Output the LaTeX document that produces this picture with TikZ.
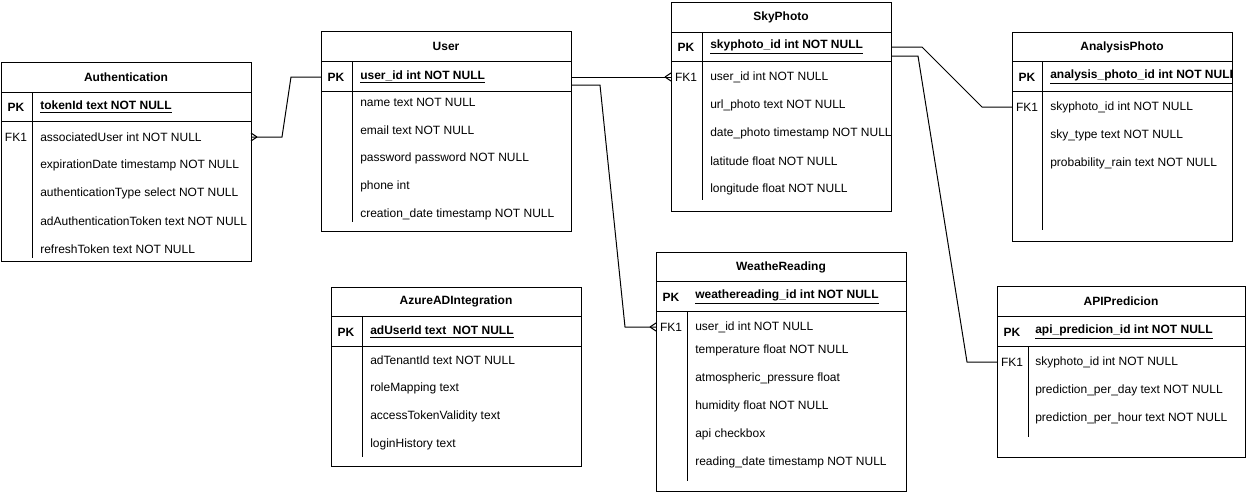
\documentclass[tikz,border=0pt]{standalone}
\usepackage{fontspec}
\setmainfont{Liberation Sans}
\usetikzlibrary{calc}

\tikzset{
  tablebox/.style={draw, line width=0.75pt},
  tableline/.style={line width=0.75pt},
  relline/.style={line width=0.75pt},
  tabletitle/.style={font=\fontsize{9}{11}\selectfont\bfseries, inner sep=0.75pt, anchor=center},
  keycol/.style={font=\fontsize{9}{11}\selectfont, inner sep=0.75pt, anchor=center},
  pkcol/.style={font=\fontsize{9}{11}\selectfont\bfseries, inner sep=0.75pt, anchor=center},
  fieldtext/.style={font=\fontsize{9}{11}\selectfont, inner sep=0.75pt, anchor=west},
  pkfield/.style={font=\fontsize{9}{11}\selectfont\bfseries, inner sep=0.75pt, anchor=west},
  crowr/.pic={\draw[relline] (6,0) -- (0,-4) (6,0) -- (0,4);},
  crowl/.pic={\draw[relline] (-6,0) -- (0,-4) (-6,0) -- (0,4);}
}

\begin{document}
\begin{tikzpicture}[x=0.75pt,y=0.75pt,yscale=-1,xscale=1]
\useasboundingbox (0,0) rectangle (1248,493);

%Table: Authentication
\coordinate (auth-nw) at (1,62);
\coordinate (auth-se) at (251,261);
\draw [tablebox] (auth-nw) rectangle (auth-se);
\draw [tableline] (1,92) -- (251,92) (1,121) -- (251,121) (32,92) -- (32,258);
% Text Node
\node [tabletitle] (auth-title) at (126,77) {Authentication};
\node [pkcol] (auth-pkkey) at (16,107) {PK};
\node [pkfield] (auth-pk) at (39,107) {\underline{tokenId text NOT NULL}};
\node [keycol] (auth-fkkey) at (16,137) {FK1};
\node [fieldtext] (auth-f1) at (39,137) {associatedUser int NOT NULL};
\node [fieldtext] (auth-f2) at (39,165) {expirationDate timestamp NOT NULL};
\node [fieldtext] (auth-f3) at (39,193) {authenticationType select NOT NULL};
\node [fieldtext] (auth-f4) at (39,221) {adAuthenticationToken text NOT NULL};
\node [fieldtext] (auth-f5) at (39,249) {refreshToken text NOT NULL};

%Table: User
\coordinate (user-nw) at (321,31);
\coordinate (user-se) at (571,231);
\draw [tablebox] (user-nw) rectangle (user-se);
\draw [tableline] (321,61) -- (571,61) (321,91) -- (571,91) (352,61) -- (352,222);
% Text Node
\node [tabletitle] (user-title) at (446,46) {User};
\node [pkcol] (user-pkkey) at (336,77) {PK};
\node [pkfield] (user-pk) at (359,77) {\underline{user\_id int NOT NULL}};
\node [fieldtext] (user-f1) at (359,102) {name text NOT NULL};
\node [fieldtext] (user-f2) at (359,130) {email text NOT NULL};
\node [fieldtext] (user-f3) at (359,158) {password password NOT NULL};
\node [fieldtext] (user-f4) at (359,186) {phone int};
\node [fieldtext] (user-f5) at (359,214) {creation\_date timestamp NOT NULL};

%Table: SkyPhoto
\coordinate (sky-nw) at (671,2);
\coordinate (sky-se) at (891,211);
\draw [tablebox] (sky-nw) rectangle (sky-se);
\draw [tableline] (671,32) -- (891,32) (671,61) -- (891,61) (702,32) -- (702,200);
% Text Node
\node [tabletitle] (sky-title) at (781,17) {SkyPhoto};
\node [pkcol] (sky-pkkey) at (686,47) {PK};
\node [pkfield] (sky-pk) at (709,47) {\underline{skyphoto\_id int NOT NULL}};
\node [keycol] (sky-fkkey) at (686,77) {FK1};
\node [fieldtext] (sky-f1) at (709,77) {user\_id int NOT NULL};
\node [fieldtext] (sky-f2) at (709,105) {url\_photo text NOT NULL};
\node [fieldtext] (sky-f3) at (709,133) {date\_photo timestamp NOT NULL};
\node [fieldtext] (sky-f4) at (709,161) {latitude float NOT NULL};
\node [fieldtext] (sky-f5) at (709,189) {longitude float NOT NULL};

%Table: AnalysisPhoto
\coordinate (ana-nw) at (1012,32);
\coordinate (ana-se) at (1232,241);
\draw [tablebox] (ana-nw) rectangle (ana-se);
\draw [tableline] (1012,61) -- (1232,61) (1012,91) -- (1232,91) (1042,61) -- (1042,230);
% Text Node
\node [tabletitle] (ana-title) at (1122,47) {AnalysisPhoto};
\node [pkcol] (ana-pkkey) at (1027,77) {PK};
\begin{scope}
\clip (ana-nw) rectangle (ana-se);
\node [pkfield] (ana-pk) at (1049,77) {\underline{analysis\_photo\_id int NOT NULL}};
\end{scope}
\node [keycol] (ana-fkkey) at (1027,107) {FK1};
\node [fieldtext] (ana-f1) at (1049,107) {skyphoto\_id int NOT NULL};
\node [fieldtext] (ana-f2) at (1049,135) {sky\_type text NOT NULL};
\node [fieldtext] (ana-f3) at (1049,163) {probability\_rain text NOT NULL};

%Table: AzureADIntegration
\coordinate (azure-nw) at (331,287);
\coordinate (azure-se) at (581,466);
\draw [tablebox] (azure-nw) rectangle (azure-se);
\draw [tableline] (331,316) -- (581,316) (331,346) -- (581,346) (362,316) -- (362,457);
% Text Node
\node [tabletitle] (azure-title) at (456,301) {AzureADIntegration};
\node [pkcol] (azure-pkkey) at (346,332) {PK};
\node [pkfield] (azure-pk) at (369,332) {\underline{adUserId text\ \ NOT NULL}};
\node [fieldtext] (azure-f1) at (369,360) {adTenantId text NOT NULL};
\node [fieldtext] (azure-f2) at (369,388) {roleMapping text};
\node [fieldtext] (azure-f3) at (369,416) {accessTokenValidity text};
\node [fieldtext] (azure-f4) at (369,444) {loginHistory text};

%Table: WeatheReading
\coordinate (wea-nw) at (656,252);
\coordinate (wea-se) at (906,491);
\draw [tablebox] (wea-nw) rectangle (wea-se);
\draw [tableline] (656,281) -- (906,281) (656,311) -- (906,311) (687,311) -- (687,481);
% Text Node
\node [tabletitle] (wea-title) at (781,267) {WeatheReading};
\node [pkcol] (wea-pkkey) at (671,297) {PK};
\node [pkfield] (wea-pk) at (694,297) {\underline{weathereading\_id int NOT NULL}};
\node [keycol] (wea-fkkey) at (671,327) {FK1};
\node [fieldtext] (wea-f1) at (694,327) {user\_id int NOT NULL};
\node [fieldtext] (wea-f2) at (694,350) {temperature float NOT NULL};
\node [fieldtext] (wea-f3) at (694,378) {atmospheric\_pressure float};
\node [fieldtext] (wea-f4) at (694,406) {humidity float NOT NULL};
\node [fieldtext] (wea-f5) at (694,434) {api checkbox};
\node [fieldtext] (wea-f6) at (694,462) {reading\_date timestamp NOT NULL};

%Table: APIPredicion
\coordinate (api-nw) at (997,286);
\coordinate (api-se) at (1245,457);
\draw [tablebox] (api-nw) rectangle (api-se);
\draw [tableline] (997,316) -- (1245,316) (997,346) -- (1245,346) (1028,346) -- (1028,437);
% Text Node
\node [tabletitle] (api-title) at (1121,301) {APIPredicion};
\node [pkcol] (api-pkkey) at (1012,332) {PK};
\node [pkfield] (api-pk) at (1034,332) {\underline{api\_predicion\_id int NOT NULL}};
\node [keycol] (api-fkkey) at (1012,362) {FK1};
\node [fieldtext] (api-f1) at (1034,362) {skyphoto\_id int NOT NULL};
\node [fieldtext] (api-f2) at (1034,390) {prediction\_per\_day text NOT NULL};
\node [fieldtext] (api-f3) at (1034,418) {prediction\_per\_hour text NOT NULL};

%Relations
\draw [relline] (auth-se |- auth-f1) -- ++(31,0) -- ($(user-nw |- user-pk)+(-30,0)$) -- (user-nw |- user-pk);
\pic at (auth-se |- auth-f1) {crowr};
\draw [relline] (user-se |- user-pk) -- (sky-nw |- sky-f1);
\pic at (sky-nw |- sky-f1) {crowl};
\draw [relline] ($(user-se |- user-pk)+(0,8)$) -- ++(29,0) -- ($(wea-nw |- wea-f1)+(-31,0)$) -- (wea-nw |- wea-f1);
\pic at (wea-nw |- wea-f1) {crowl};
\draw [relline] (sky-se |- sky-pk) -- ++(31,0) -- ($(ana-nw |- ana-f1)+(-30,0)$) -- (ana-nw |- ana-f1);
\draw [relline] ($(sky-se |- sky-pk)+(0,9)$) -- ++(27,0) -- ($(api-nw |- api-f1)+(-30,0)$) -- (api-nw |- api-f1);

\end{tikzpicture}
\end{document}
